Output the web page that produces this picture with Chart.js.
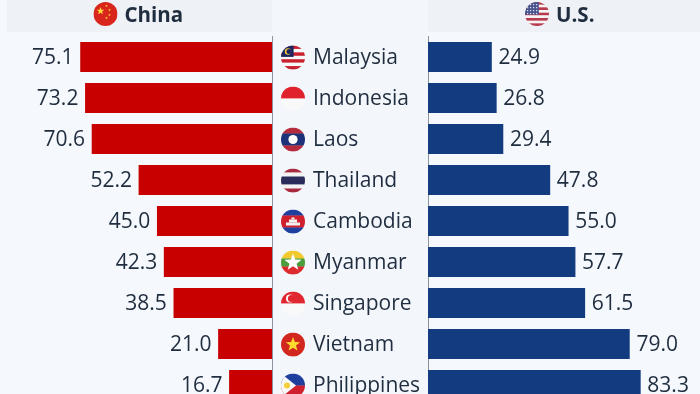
<!DOCTYPE html>
<html>
<head>
<meta charset="utf-8">
<script src="https://cdn.jsdelivr.net/npm/chart.js@4"></script>
<style>
  html, body { margin: 0; padding: 0; width: 700px; height: 394px; overflow: hidden; background: #f5f8fc; }
  .panel { position: absolute; background: #f3f6fa; }
  canvas { position: absolute; left: 0; top: 0; }
</style>
</head>
<body>
<div class="panel" style="left:7px;top:0;width:265px;height:32px;background:#eef1f6"></div>
<div class="panel" style="left:272px;top:0;width:156px;height:394px"></div>
<div class="panel" style="left:428px;top:0;width:272px;height:32px;background:#eef1f6"></div>
<div style="position:absolute;left:0;top:0;width:700px;height:394px;overflow:hidden">
  <canvas id="left"></canvas>
  <canvas id="right"></canvas>
</div>
<script>
const categories = ['Malaysia', 'Indonesia', 'Laos', 'Thailand', 'Cambodia', 'Myanmar', 'Singapore', 'Vietnam', 'Philippines'];
const chinaValues = [75.1, 73.2, 70.6, 52.2, 45.0, 42.3, 38.5, 21.0, 16.7];
const usValues = [24.9, 26.8, 29.4, 47.8, 55.0, 57.7, 61.5, 79.0, 83.3];
const seriesNames = ['China', 'U.S.'];

const RED = '#c80000';
const BLUE = '#123b80';
const TEXT = '#1f2d3f';
const FONT = '"Open Sans", sans-serif';
const AXIS_MAX = 106.7; // 272px wide plot at about 2.55px per point

function star(c, x, y, r, color) {
  c.fillStyle = color;
  c.beginPath();
  for (let i = 0; i < 10; i++) {
    const a = -Math.PI / 2 + i * Math.PI / 5;
    const d = i % 2 ? r * 0.42 : r;
    c.lineTo(x + Math.cos(a) * d, y + Math.sin(a) * d);
  }
  c.closePath();
  c.fill();
}

function stripes(c, x, y, r, rows) {
  const total = rows.reduce((s, row) => s + row[1], 0);
  let top = y - r;
  rows.forEach(row => {
    const h = row[1] / total * 2 * r;
    c.fillStyle = row[0];
    c.fillRect(x - r, top, 2 * r, h + 0.3);
    top += h;
  });
}

// the little round flags
const flags = {
  China(c, x, y, r) {
    stripes(c, x, y, r, [['#d8261c', 1]]);
    star(c, x - 5, y - 3, 4, '#ffd83a');
    star(c, x + 1, y - 8, 1.4, '#ffd83a');
    star(c, x + 4, y - 4, 1.4, '#ffd83a');
    star(c, x + 4, y + 1, 1.4, '#ffd83a');
    star(c, x + 1, y + 4, 1.4, '#ffd83a');
  },
  'U.S.'(c, x, y, r) {
    const rows = [];
    for (let i = 0; i < 9; i++) rows.push([i % 2 ? '#f4f4f4' : '#b93a4e', 1]);
    stripes(c, x, y, r, rows);
    c.fillStyle = '#4a5590';
    c.fillRect(x - r, y - r, r * 1.15, r * 1.05);
    c.fillStyle = '#dfe3f2';
    for (let i = 0; i < 4; i++) for (let j = 0; j < 4; j++) c.fillRect(x - r + 2 + i * 3, y - r + 2 + j * 3, 1.2, 1.2);
  },
  Malaysia(c, x, y, r) {
    const rows = [];
    for (let i = 0; i < 7; i++) rows.push([i % 2 ? '#f7f7f7' : '#c8202e', 1]);
    stripes(c, x, y, r, rows);
    c.fillStyle = '#1a2560';
    c.fillRect(x - r, y - r, r * 1.05, r * 0.95);
    c.fillStyle = '#f2c83c';
    c.beginPath(); c.arc(x - 5, y - 6, 3.2, 0, 7); c.fill();
    c.fillStyle = '#1a2560';
    c.beginPath(); c.arc(x - 4, y - 6, 2.5, 0, 7); c.fill();
  },
  Indonesia(c, x, y, r) {
    stripes(c, x, y, r, [['#e0222c', 1], ['#f9f9f9', 1]]);
  },
  Laos(c, x, y, r) {
    stripes(c, x, y, r, [['#b52a3c', 1], ['#1c3278', 2], ['#b52a3c', 1]]);
    c.fillStyle = '#fff';
    c.beginPath(); c.arc(x, y, 4.6, 0, 7); c.fill();
  },
  Thailand(c, x, y, r) {
    stripes(c, x, y, r, [['#a82a3e', 1], ['#f4f4f4', 1], ['#2a2d5c', 2], ['#f4f4f4', 1], ['#a82a3e', 1]]);
  },
  Cambodia(c, x, y, r) {
    stripes(c, x, y, r, [['#1f3f9e', 1], ['#d0202e', 2], ['#1f3f9e', 1]]);
    c.fillStyle = '#f2f2f2';
    c.fillRect(x - 7, y + 1, 14, 3);
    c.fillRect(x - 4, y - 2, 8, 3);
    c.fillRect(x - 1.5, y - 4, 3, 2);
  },
  Myanmar(c, x, y, r) {
    stripes(c, x, y, r, [['#f2c92e', 1], ['#4a9e3c', 1], ['#dc2a2e', 1]]);
    star(c, x, y, 9, '#ffffff');
  },
  Singapore(c, x, y, r) {
    stripes(c, x, y, r, [['#e0262e', 1], ['#f9f9f9', 1]]);
    c.fillStyle = '#fff';
    c.beginPath(); c.arc(x - 3, y - 5, 4, 0, 7); c.fill();
    c.fillStyle = '#e0262e';
    c.beginPath(); c.arc(x - 1.5, y - 5, 3.6, 0, 7); c.fill();
  },
  Vietnam(c, x, y, r) {
    stripes(c, x, y, r, [['#d2271f', 1]]);
    star(c, x, y, 7.5, '#ffdb2e');
  },
  Philippines(c, x, y, r) {
    stripes(c, x, y, r, [['#1f3f9e', 1], ['#d0202e', 1]]);
    c.fillStyle = '#f8f8f8';
    c.beginPath(); c.moveTo(x - r, y - r); c.lineTo(x + 3, y); c.lineTo(x - r, y + r); c.fill();
    c.fillStyle = '#f5cf3c';
    c.beginPath(); c.arc(x - 6, y, 3, 0, 7); c.fill();
  }
};

function drawFlag(c, name, x, y, r) {
  c.save();
  c.beginPath();
  c.arc(x, y, r, 0, 7);
  c.clip();
  flags[name](c, x, y, r);
  c.restore();
}

// value labels next to the bars
const valueLabels = {
  id: 'valueLabels',
  afterDatasetsDraw(chart, args, opts) {
    const c = chart.ctx;
    const meta = chart.getDatasetMeta(0);
    c.save();
    c.font = '21px ' + FONT;
    c.fillStyle = TEXT;
    c.textBaseline = 'middle';
    c.textAlign = opts.reversed ? 'right' : 'left';
    meta.data.forEach((bar, i) => {
      const dx = opts.reversed ? -7 : 7;
      c.fillText(chart.data.datasets[0].data[i].toFixed(1), bar.x + dx, bar.y + 1.5);
    });
    c.restore();
  }
};

// series title with its flag, on top of each side
const header = {
  id: 'header',
  afterDraw(chart, args, opts) {
    const c = chart.ctx;
    drawFlag(c, opts.name, opts.flagX, 14, 12);
    c.save();
    c.font = 'bold 20.5px ' + FONT;
    c.fillStyle = TEXT;
    c.textBaseline = 'middle';
    c.fillText(opts.name, opts.flagX + 19, 16);
    c.restore();
  }
};

// country names with flags in the middle column
const middleColumn = {
  id: 'middleColumn',
  afterDraw(chart) {
    const c = chart.ctx;
    const y = chart.scales.y;
    c.save();
    c.font = '21px ' + FONT;
    c.textBaseline = 'middle';
    categories.forEach((name, i) => {
      const py = y.getPixelForValue(i);
      drawFlag(c, name, 293, py + 0.5, 12);
      c.fillStyle = TEXT;
      c.fillText(name, 313, py + 1.5);
    });
    c.restore();
  }
};

function sideChart(id, values, color, reversed, name, flagX, padding, extra) {
  const canvas = document.getElementById(id);
  canvas.style.width = '700px';
  canvas.style.height = '406px';
  canvas.width = 700;
  canvas.height = 406;
  return new Chart(canvas, {
    type: 'bar',
    data: {
      labels: categories,
      datasets: [{ label: name, data: values, backgroundColor: color, barThickness: 29.5 }]
    },
    plugins: [valueLabels, header].concat(extra),
    options: {
      indexAxis: 'y',
      responsive: false,
      animation: false,
      layout: { padding },
      plugins: {
        legend: { display: false },
        tooltip: { enabled: false },
        valueLabels: { reversed },
        header: { name, flagX }
      },
      scales: {
        x: {
          display: false,
          min: 0,
          max: AXIS_MAX,
          reverse: reversed
        },
        y: {
          position: reversed ? 'right' : 'left',
          grid: { display: false, drawTicks: false },
          border: { display: true, color: '#8b949e', width: 1 },
          ticks: { display: false }
        }
      }
    }
  });
}

sideChart('left', chinaValues, RED, true, seriesNames[0], 105.5, { left: 0, right: 428, top: 36.5, bottom: 0.5 }, []);
sideChart('right', usValues, BLUE, false, seriesNames[1], 537, { left: 428, right: 0, top: 36.5, bottom: 0.5 }, [middleColumn]);
</script>
</body>
</html>
